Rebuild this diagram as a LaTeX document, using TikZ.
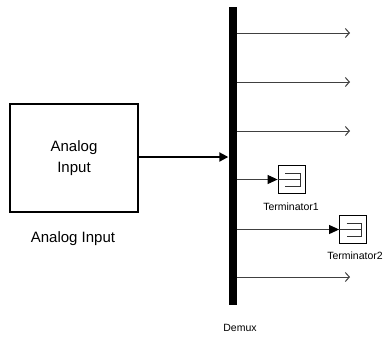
\documentclass[tikz,border=0pt]{standalone}
\usepackage{fontspec}
\setmainfont{Liberation Sans}
\usetikzlibrary{arrows.meta}
\begin{document}
\begin{tikzpicture}[x=1pt,y=-1pt,
  blockbox/.style={draw=black,line width=2pt,minimum width=128pt,minimum height=108pt,inner sep=0pt,align=center,font=\fontsize{15}{19}\selectfont},
  termbox/.style={draw=black,line width=0.8pt,minimum width=27pt,minimum height=28pt,inner sep=0pt},
  termsym/.style={draw=black!80,line width=0.8pt},
  bar/.style={fill=black,draw=none,minimum width=8pt,minimum height=298pt,inner sep=0pt},
  lbl/.style={font=\fontsize{15}{18}\selectfont,inner sep=0pt},
  smalllbl/.style={font=\fontsize{10.5}{12}\selectfont,inner sep=0pt},
  sig/.style={draw=black!75,line width=1pt,-{Straight Barb[length=4pt,width=9pt,line width=1pt]}},
  sigt/.style={draw=black!75,line width=1pt,-{Triangle[length=10pt,width=9pt,fill=black,color=black]}},
  mainsig/.style={draw=black,line width=2pt,-{Triangle[length=9pt,width=9pt]}}
]
\useasboundingbox (0,0) rectangle (388,338);
\fill[white] (0,0) rectangle (388,338);

% Analog Input block
\node[blockbox] (ai) at (74,158) {Analog\\[2pt]Input};
\node[lbl] (ailbl) at (73,239) {Analog Input};

% Demux bar
\node[bar] (demux) at (232.5,156) {};
\node[smalllbl] (demuxlbl) at (240,328) {Demux};

% main input
\draw[mainsig] (ai.east |- 0,157) -- (demux.west |- 0,157);

% open outputs
\coordinate (o1) at (350,33);
\coordinate (o2) at (350,82);
\coordinate (o3) at (350,131);
\coordinate (o6) at (350,277);
\draw[sig] (demux.east |- o1) -- (o1);
\draw[sig] (demux.east |- o2) -- (o2);
\draw[sig] (demux.east |- o3) -- (o3);
\draw[sig] (demux.east |- o6) -- (o6);

% Terminators
\node[termbox] (t1) at (291.5,179.5) {};
\node[termbox] (t2) at (353,229.5) {};
\node[smalllbl] (t1lbl) at (291,207) {Terminator1};
\node[smalllbl] (t2lbl) at (355,256) {Terminator2};
\foreach \t in {t1,t2}{
  \draw[termsym] ([xshift=-6.5pt,yshift=6.5pt]\t.center) -- ([xshift=8.5pt,yshift=6.5pt]\t.center)
     -- ([xshift=8.5pt,yshift=-7pt]\t.center) -- ([xshift=-6.5pt,yshift=-7pt]\t.center);
  \draw[termsym] (\t.west) -- ([xshift=8.5pt]\t.center);
}
\draw[sigt] (demux.east |- t1.west) -- (t1.west);
\draw[sigt] (demux.east |- t2.west) -- (t2.west);
\end{tikzpicture}
\end{document}
